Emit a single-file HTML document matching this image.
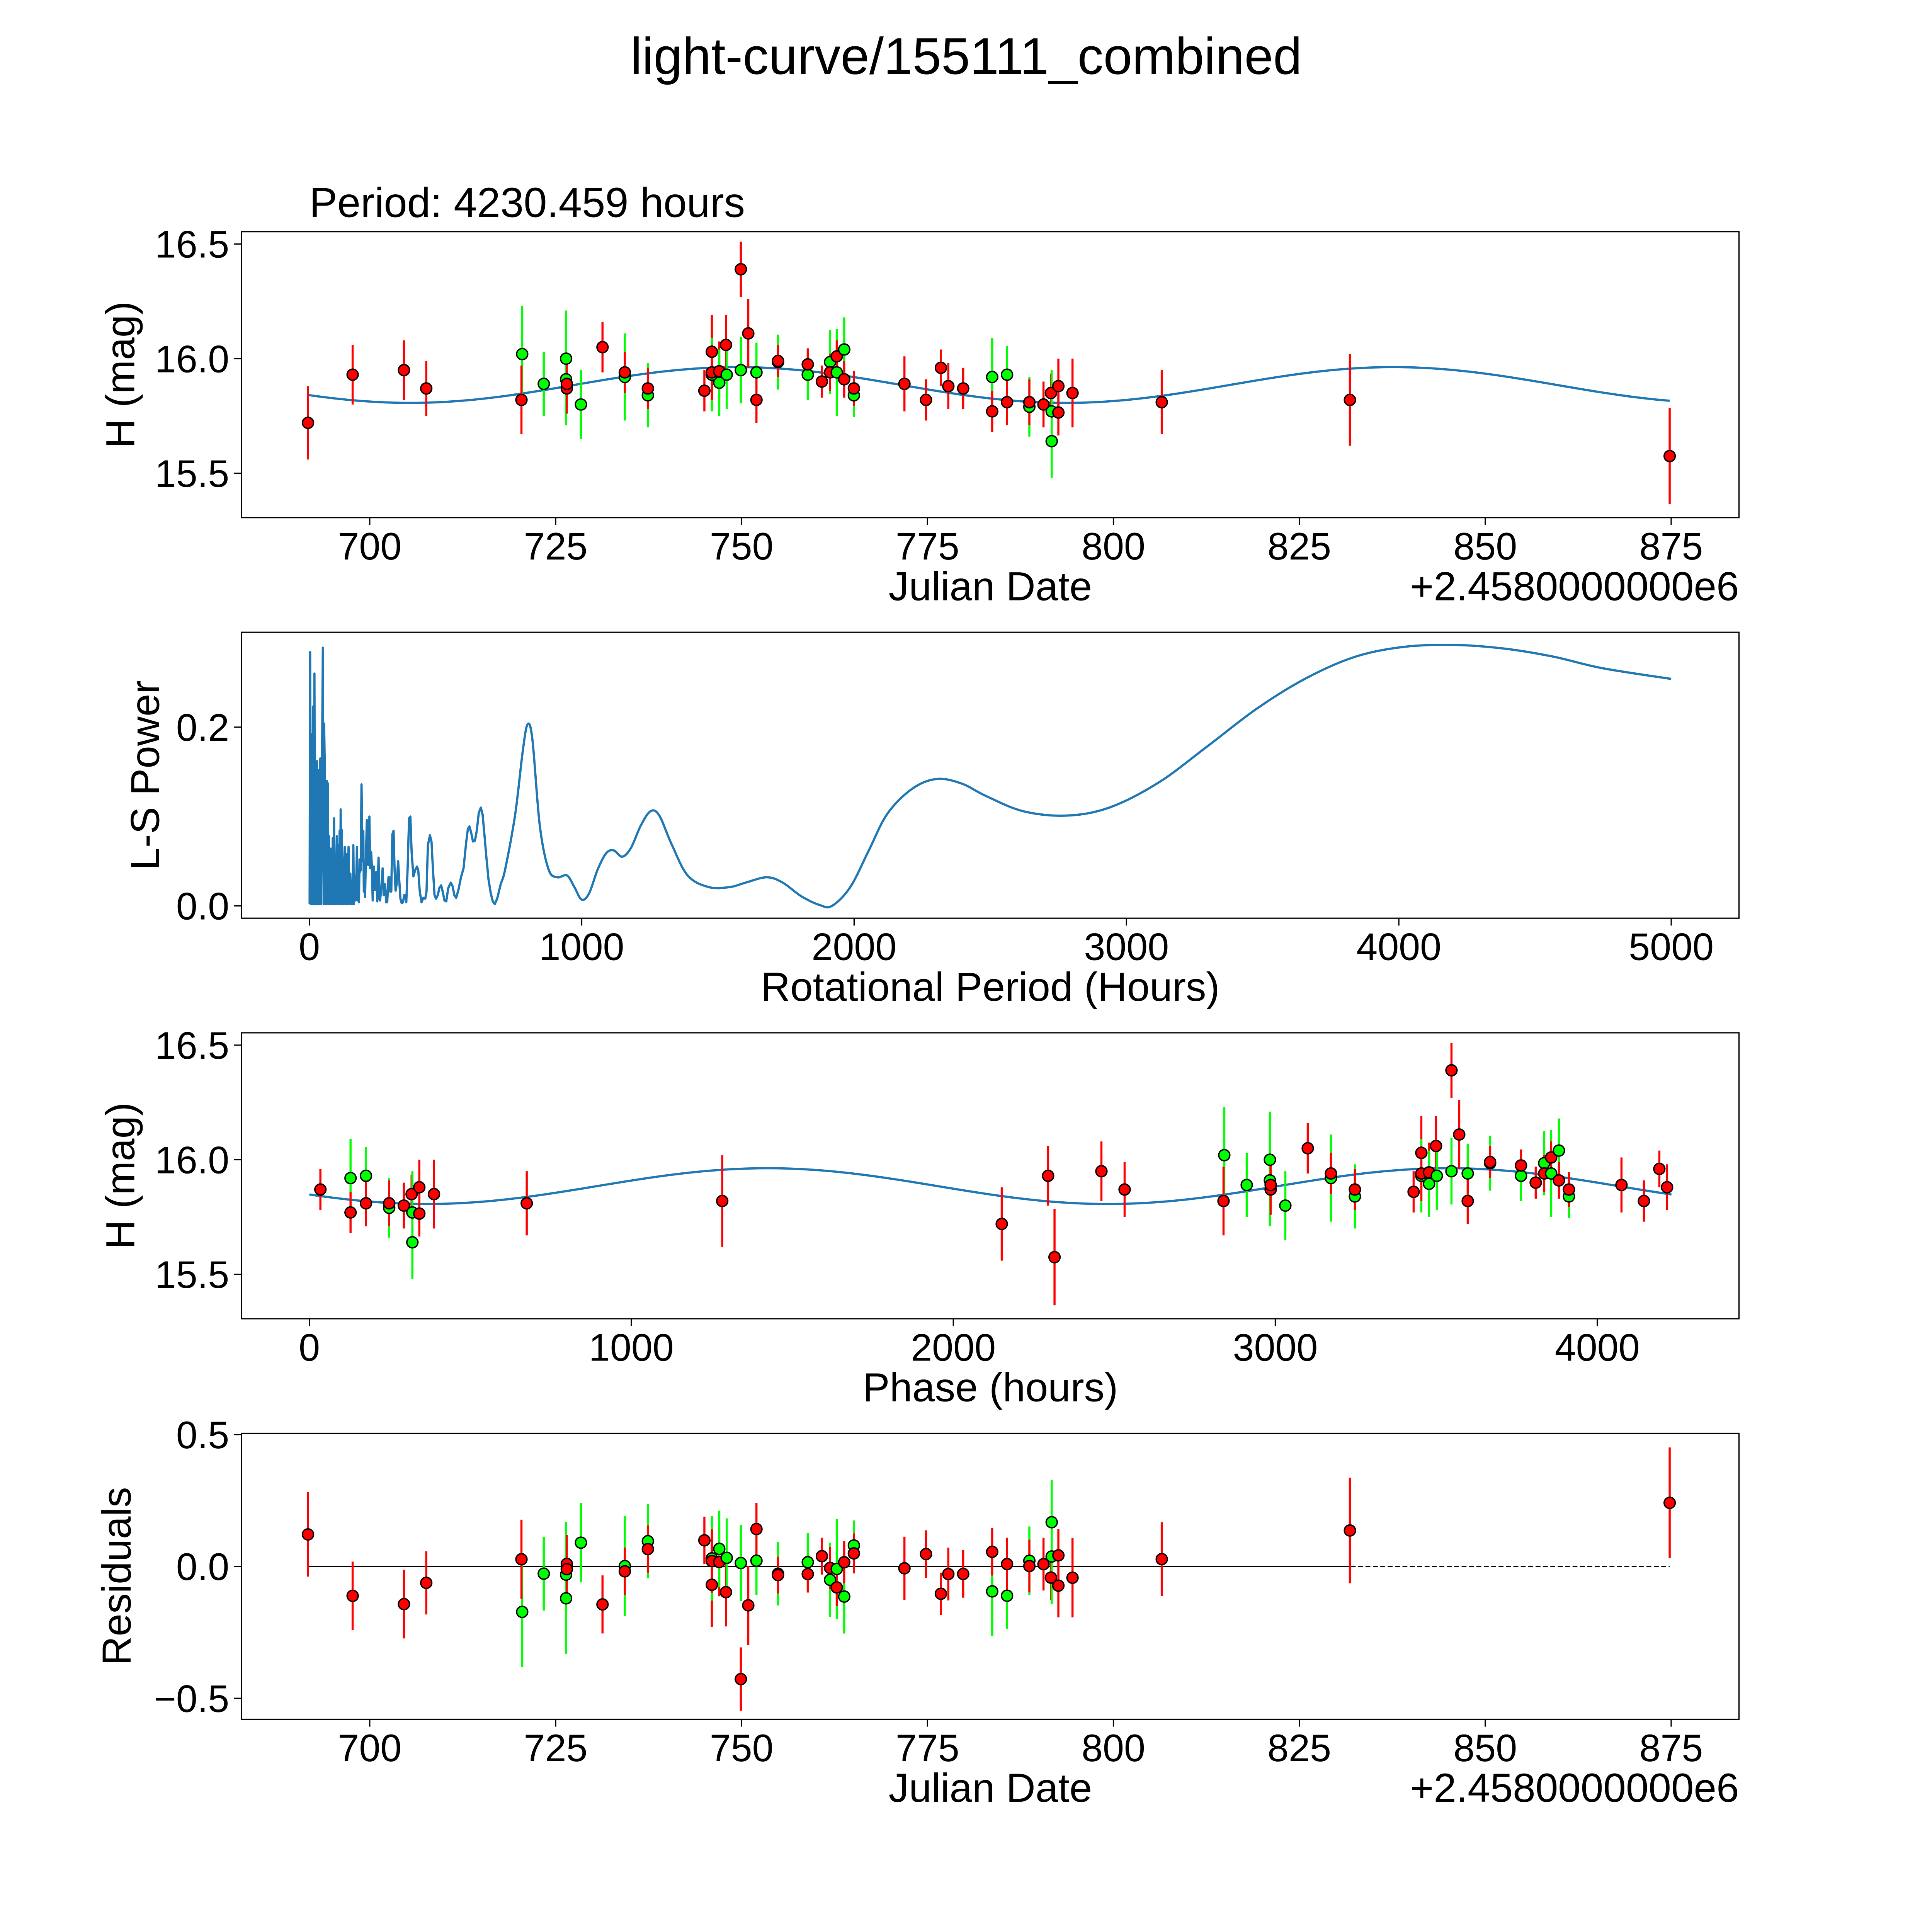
<!DOCTYPE html>
<html><head><meta charset="utf-8">
<style>
html,body{margin:0;padding:0;background:#fff;overflow:hidden;width:5400px;height:5400px;}
svg{display:block;}
text{font-family:"Liberation Sans","DejaVu Sans",sans-serif;fill:#000;}
</style></head>
<body>
<svg id="fig" xmlns="http://www.w3.org/2000/svg" width="5400" height="5400" viewBox="0 0 1693 1693">
<rect x="0" y="0" width="1693" height="1693" fill="#fff"/>
<text x="784" y="60" font-size="42" text-anchor="middle">light-curve/155111_combined</text>
<text x="251" y="176" font-size="34">Period: 4230.459 hours</text>
</svg>
<script>
// ---- data: observations ----
const jd = [691.7,697.7,704.6,707.6,720.5,720.4,723.4,726.4,726.4,726.5,726.5,728.4,731.3,734.3,734.3,737.4,737.4,745.0,746.0,746.0,746.0,747.0,747.0,747.9,748.0,749.9,749.9,750.9,752.0,752.0,754.9,754.9,758.9,758.9,760.8,761.9,761.9,762.8,762.8,763.8,763.8,765.1,765.1,771.9,774.8,776.8,777.8,779.8,783.7,783.7,785.7,785.7,788.7,788.7,790.6,791.6,791.7,791.7,792.6,792.6,794.5,806.5,831.8,874.8];
const mag = [15.72,15.93,15.95,15.87,16.02,15.82,15.89,16.00,15.91,15.87,15.89,15.80,16.05,15.92,15.94,15.84,15.87,15.86,16.03,15.93,15.94,15.945,15.895,16.06,15.93,16.39,15.95,16.11,15.94,15.82,15.985,15.99,15.93,15.975,15.90,15.985,15.94,15.94,16.01,16.04,15.91,15.84,15.87,15.89,15.82,15.96,15.88,15.87,15.92,15.77,15.93,15.81,15.79,15.81,15.80,15.85,15.77,15.64,15.88,15.765,15.85,15.81,15.82,15.575];
const magErr = [0.16,0.13,0.13,0.12,0.21,0.15,0.14,0.21,0.20,0.11,0.10,0.15,0.11,0.19,0.09,0.14,0.09,0.09,0.16,0.16,0.12,0.13,0.145,0.13,0.15,0.12,0.145,0.15,0.13,0.10,0.12,0.07,0.11,0.07,0.07,0.14,0.08,0.19,0.07,0.14,0.08,0.095,0.076,0.12,0.09,0.08,0.10,0.09,0.17,0.09,0.125,0.10,0.13,0.10,0.10,0.085,0.18,0.16,0.12,0.10,0.15,0.14,0.20,0.21];
const band = ["r","r","r","r","g","r","g","g","g","r","r","g","r","g","r","g","r","r","r","g","r","r","g","r","g","r","g","r","g","r","g","r","g","r","r","g","r","g","r","g","r","g","r","r","r","r","r","r","g","r","g","r","g","r","r","r","g","g","r","r","r","r","r","r"];
// ---- fit parameters ----
const fitMean = 15.885, fitAmp = 0.078, fitPeakJD = 749.5, fitHalfPeriodDays = 88.135;
const bestPeriodHours = 4230.459, phaseEpochJD = 602.1;
// ---- periodogram ----
const lsPeriod = [1,2.9,4.7,8.5,10.3,13.1,15,18.7,20.6,24.4,26.2,28.1,30,32.8,34.6,35.6,38.4,40.2,43,49.6,52.4,54.2,56.1,58,59.8,61.7,63.6,66.4,68.2,70.1,72,73.9,75.7,77.6,80.4,82.3,84.1,86,87.9,90.7,92.5,94.4,96.3,100.9,102.8,105.6,108.4,111.2,113.1,115,117.8,118.7,120.6,122.4,124.3,127.1,129.9,131.8,133.6,136.4,138.3,140.2,143.9,146.7,150.4,153.2,156,157.9,161.6,163.5,166.3,169.1,171.9,174.7,176.6,179.4,182.2,184.1,185.9,188.7,191.5,195.3,198.1,200,201.8,204.6,207.4,211.2,214,217.7,220.5,223.3,227,229.8,232.6,236.4,239.2,242,245.7,249.4,254.1,256.9,259.7,263.5,269.1,272.8,275.6,278.4,282.1,285.9,290.5,294.3,297.1,300.8,304.6,309.2,313,316.7,320.4,326,329.8,334.4,339.1,343.8,348.4,352.2,355.9,360.6,366.2,370.9,375.5,382.1,388.6,395.1,399.8,405.4,412,418.5,425.5,430.2,435.3,442.8,448.4,454,459.6,465.2,471.7,477.3,483.9,489.5,496,502.6,510,519.4,525.9,532.4,539,547.4,556.7,566.1,575.4,582,587.6,594.1,600.6,608.1,614.6,622.1,629.6,636.1,642.7,650.1,657.6,666,673.5,680.9,689.4,702.4,719,756,783,801,819,846,878,910,946,973,1000,1027,1059,1090,1118,1149,1181,1217,1253,1285,1330,1389,1466,1543,1602,1679,1738,1805,1873,1919,1986,2054,2122,2213,2303,2394,2484,2620,2778,2937,3118,3299,3480,3661,3842,4023,4204,4385,4566,4747,5000];
const lsPower = [0.002,0.284,0.002,0.192,0.002,0.223,0.002,0.26,0.002,0.16,0.002,0.162,0.002,0.152,0.002,0.104,0.002,0.165,0.002,0.289,0.002,0.204,0.166,0.002,0.112,0.002,0.14,0.002,0.137,0.002,0.078,0.002,0.06,0.064,0.002,0.064,0.002,0.076,0.002,0.098,0.002,0.044,0.002,0.078,0.002,0.068,0.002,0.084,0.002,0.108,0.002,0.085,0.002,0.048,0.002,0.046,0.066,0.002,0.058,0.002,0.058,0.002,0.066,0.002,0.036,0.002,0.028,0.002,0.068,0.002,0.034,0.006,0.02,0.066,0.006,0.04,0.004,0.052,0.038,0.04,0.136,0.05,0.084,0.016,0.046,0.01,0.052,0.096,0.046,0.046,0.1,0.042,0.06,0.042,0.006,0.044,0.018,0.018,0.038,0.005,0.054,0.008,0.006,0.018,0.042,0.012,0.024,0.024,0.004,0.004,0.032,0.032,0.016,0.016,0.08,0.084,0.04,0.017,0.024,0.05,0.03,0.008,0.003,0.004,0.012,0.012,0.004,0.04,0.098,0.1,0.06,0.033,0.04,0.044,0.04,0.016,0.004,0.009,0.008,0.016,0.068,0.079,0.072,0.04,0.012,0.008,0.012,0.02,0.023,0.016,0.006,0.005,0.02,0.026,0.022,0.012,0.009,0.018,0.032,0.042,0.07,0.086,0.089,0.082,0.072,0.073,0.084,0.104,0.11,0.102,0.08,0.054,0.03,0.014,0.005,0.002,0.008,0.024,0.041,0.103,0.172,0.203,0.186,0.09,0.041,0.032,0.034,0.021,0.007,0.014,0.041,0.059,0.062,0.055,0.065,0.09,0.106,0.101,0.069,0.034,0.021,0.021,0.026,0.032,0.026,0.011,0.001,0,0.021,0.062,0.103,0.131,0.142,0.137,0.123,0.106,0.101,0.11,0.138,0.179,0.221,0.255,0.279,0.29,0.292,0.288,0.279,0.266,0.254];
// ---- ticks ----
const jdTicks = [700,725,750,775,800,825,850,875];
const magTicks = [15.5,16.0,16.5];
const lsXTicks = [0,1000,2000,3000,4000,5000];
const lsYTicks = [0.0,0.2];
const phaseTicks = [0,1000,2000,3000,4000];
const resTicks = [-0.5,0.0,0.5];

const NS="http://www.w3.org/2000/svg";
const svg=document.getElementById('fig');
function el(tag,attrs,parent){const e=document.createElementNS(NS,tag);for(const k in attrs)e.setAttribute(k,attrs[k]);(parent||svg).appendChild(e);return e;}
const L=196,R=1411,H=232;
const tops=[188,513,838,1163];
// axis functions
const xJD=d=>300+(d-700)*6.034;
const yMag1=m=>291-(m-16)*186;
const xLS=p=>251+p*0.221;
const yLS=v=>735-v*725;
const xPh=p=>251+p*0.26125;
const yMag3=m=>941-(m-16)*186;
const yRes=r=>1271-r*214;
const model=t=>fitMean+fitAmp*Math.cos(2*Math.PI*(t-fitPeakJD)/fitHalfPeriodDays);
const phaseOf=t=>(((t-phaseEpochJD)*24)%bestPeriodHours+bestPeriodHours)%bestPeriodHours;
const fmt=(v,d)=>{const s=v.toFixed(d);return v<0?'\u2212'+s.slice(1):s;};

function frame(i,name){
  const g=el('g',{});
  
  
  const cp=el('clipPath',{id:'clip'+i},g);
  el('rect',{x:L,y:tops[i],width:R-L,height:H},cp);
  return g;
}
function axes(g,i,xt,xf,xd,yt,yf,yd,xlabel,ylabel,ylx,offset){
  const t=tops[i],b=t+H;
  const box=el('rect',{x:L,y:t,width:R-L,height:H,fill:'none',stroke:'#000','stroke-width':1},g);
  
  
  xt.forEach(v=>{const x=xf(v);
    el('line',{x1:x,x2:x,y1:b,y2:b+6,stroke:'#000','stroke-width':1},g);
    const tx=el('text',{x:x,y:b+34,'font-size':31,'text-anchor':'middle'},g);tx.textContent=fmt(v,xd);
    
    });
  yt.forEach(v=>{const y=yf(v);
    el('line',{x1:L,x2:L-6,y1:y,y2:y,stroke:'#000','stroke-width':1},g);
    const tx=el('text',{x:L-10,y:y+11,'font-size':31,'text-anchor':'end'},g);tx.textContent=fmt(v,yd);
    
    });
  const xl=el('text',{x:(L+R)/2,y:b+67,'font-size':33,'text-anchor':'middle'},g);xl.textContent=xlabel;
  
  
  const yl=el('text',{x:ylx,y:t+H/2,'font-size':33,'text-anchor':'middle',transform:`rotate(-90 ${ylx} ${t+H/2})`},g);yl.textContent=ylabel;
  
  
  if(offset){const o=el('text',{x:R,y:b+67,'font-size':33,'text-anchor':'end'},g);o.textContent=offset;
    
    }
}
function points(g,i,xs,ys,errScale){
  const cg=el('g',{'clip-path':`url(#clip${i})`},g);
  for(let k=0;k<xs.length;k++){
    const c=band[k]==='r'?'#ff0000':'#00ff00';
    const x=xs[k],y=ys[k],e=magErr[k]*errScale;
    const ln=el('line',{x1:x,x2:x,y1:y-e,y2:y+e,stroke:c,'stroke-width':1.7},cg);
    
    
  }
  for(let k=0;k<xs.length;k++){
    const c=band[k]==='r'?'#ff0000':'#00ff00';
    const pt=el('circle',{cx:xs[k],cy:ys[k],r:4.5,fill:c,stroke:'#000','stroke-width':1.1},cg);
    
    
  }
}
// Panel 1
let g=frame(0,'light-curve-panel');
let d='';for(let k=0;k<=200;k++){const t=jd[0]+(jd[jd.length-1]-jd[0])*k/200;d+=(k?'L':'M')+xJD(t).toFixed(2)+' '+yMag1(model(t)).toFixed(2);}
let p=el('path',{d:d,fill:'none',stroke:'#1f77b4','stroke-width':1.8,'clip-path':'url(#clip0)'},g);


points(g,0,jd.map(xJD),mag.map(yMag1),186);
axes(g,0,jdTicks,xJD,0,magTicks,yMag1,1,'Julian Date','H (mag)',109,'+2.4580000000e6');
// Panel 2
g=frame(1,'periodogram-panel');
const px=lsPeriod.map(xLS), py=lsPower.map(yLS);
d='M'+px[0].toFixed(2)+' '+py[0].toFixed(2);
for(let k=1;k<px.length;k++){
  if(lsPeriod[k]<700){d+='L'+px[k].toFixed(2)+' '+py[k].toFixed(2);continue;}
  const p0=k>1?k-2:k-1,p1=k-1,p2=k,p3=Math.min(k+1,px.length-1);
  const c1x=px[p1]+(px[p2]-px[p0])/6,c1y=py[p1]+(py[p2]-py[p0])/6;
  const c2x=px[p2]-(px[p3]-px[p1])/6,c2y=py[p2]-(py[p3]-py[p1])/6;
  d+='C'+c1x.toFixed(2)+' '+c1y.toFixed(2)+' '+c2x.toFixed(2)+' '+c2y.toFixed(2)+' '+px[p2].toFixed(2)+' '+py[p2].toFixed(2);
}
p=el('path',{d:d,fill:'none',stroke:'#1f77b4','stroke-width':1.8,'stroke-linejoin':'round','clip-path':'url(#clip1)'},g);


axes(g,1,lsXTicks,xLS,0,lsYTicks,yLS,1,'Rotational Period (Hours)','L-S Power',129,null);
// Panel 3
g=frame(2,'phase-folded-panel');
d='';for(let k=0;k<=200;k++){const ph=bestPeriodHours*k/200;const t=phaseEpochJD+ph/24;d+=(k?'L':'M')+xPh(ph).toFixed(2)+' '+yMag3(model(t)).toFixed(2);}
p=el('path',{d:d,fill:'none',stroke:'#1f77b4','stroke-width':1.8},g);


points(g,2,jd.map(t=>xPh(phaseOf(t))),mag.map(yMag3),186);
axes(g,2,phaseTicks,xPh,0,magTicks,yMag3,1,'Phase (hours)','H (mag)',109,null);
// Panel 4
g=frame(3,'residuals-panel');
const x0=xJD(jd[0]),x1=xJD(jd[jd.length-1]);
p=el('line',{x1:x0,x2:x1,y1:yRes(0),y2:yRes(0),stroke:'#000','stroke-width':1.2,'stroke-dasharray':'4 2'},g);


p=el('line',{x1:x0,x2:xJD(831.8),y1:yRes(0),y2:yRes(0),stroke:'#000','stroke-width':1.2},g);


points(g,3,jd.map(xJD),jd.map((t,k)=>yRes(model(t)-mag[k])),214);
axes(g,3,jdTicks,xJD,0,resTicks,yRes,1,'Julian Date','Residuals',106,'+2.4580000000e6');
</script>
</body></html>
